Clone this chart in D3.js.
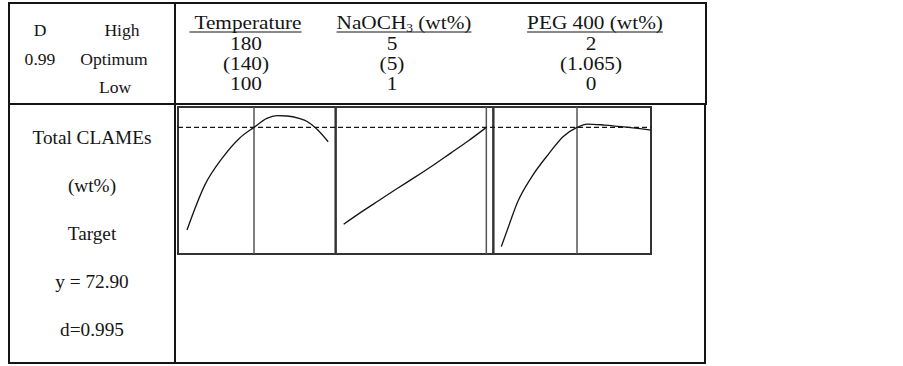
<!DOCTYPE html>
<html>
<head>
<meta charset="utf-8">
<script src="https://cdn.jsdelivr.net/npm/d3@7"></script>
<style>
  html, body { margin: 0; padding: 0; background: #fff; }
  svg { display: block; font-family: "Liberation Serif", "Times New Roman", serif; }
</style>
</head>
<body>
<svg id="chart" width="903" height="366"></svg>
<script>
(function () {
  "use strict";

  // factor headers and their high / optimum / low settings
  const factorNames = ["Temperature", "NaOCH₃ (wt%)", "PEG 400 (wt%)"];
  const highLabels = ["180", "5", "2"];
  const optLabels = ["(140)", "(5)", "(1.065)"];
  const lowLabels = ["100", "1", "0"];
  const factorLow = [100, 1, 0];
  const factorOpt = [140, 5, 1.065];
  const factorHigh = [180, 5, 2];

  const rowNames = ["High", "Optimum", "Low"];
  const desirability = "0.99";

  const responseLines = ["Total CLAMEs", "(wt%)", "Target", "y = 72.90", "d=0.995"];
  const targetValue = 72.90;

  // predicted response traces
  const tempCurve = [
    [100, 42.2], [110.7, 55.7], [120.9, 63.6], [131.2, 69.6], [140, 72.9],
    [146.9, 75.6], [152.4, 76.4], [157.9, 76.3], [164.3, 75.6], [168.9, 74.6],
    [174.4, 72.1], [180, 68.6]
  ];
  const naochCurve = [
    [1, 43.9], [1.5, 47.6], [2.0, 51.1], [2.5, 54.6], [3.0, 58.0],
    [3.5, 61.5], [4.0, 65.2], [4.5, 68.9], [5, 72.9]
  ];
  const pegCurve = [
    [0, 37.2], [0.109, 43.7], [0.232, 50.7], [0.428, 58.1], [0.672, 65.1],
    [0.868, 70.1], [1.065, 72.9], [1.194, 73.9], [1.412, 73.6], [1.717, 72.9],
    [2, 72.1]
  ];
  const curves = [tempCurve, naochCurve, pegCurve];

  const svg = d3.select("#chart");
  const ink = "#151515";

  // text drawn a little wider than Liberation Serif, like the original face
  function wideText(parent, x, y, sx) {
    return parent.append("text")
      .attr("transform", `translate(${x},${y}) scale(${sx},1)`)
      .attr("text-anchor", "middle");
  }

  // ---- frames ----
  const frame = svg.append("g").attr("fill", "none").attr("stroke", ink).attr("stroke-width", 2);
  frame.append("rect").attr("x", 9).attr("y", 3).attr("width", 166).attr("height", 101);
  frame.append("rect").attr("x", 175).attr("y", 3).attr("width", 531).attr("height", 101);
  frame.append("rect").attr("x", 9).attr("y", 104).attr("width", 166).attr("height", 259);
  frame.append("rect").attr("x", 175).attr("y", 104).attr("width", 530).attr("height", 259);

  // ---- top-left legend ----
  const tl = svg.append("g").attr("fill", ink).attr("font-size", 16);
  const rowY = d3.scalePoint().domain(rowNames).range([36, 93]);
  wideText(tl, 40, rowY("High"), 1.1).text("D");
  wideText(tl, 40, rowY("Optimum"), 1.1).text(desirability);
  const rowX = { High: 122, Optimum: 114, Low: 115 };
  rowNames.forEach(d => wideText(tl, rowX[d], rowY(d), 1.1).text(d));

  // ---- factor header ----
  const headerX = [248, 404, 595];
  const valueX = [246, 392, 591];
  const headSx = 1.12;
  const head = svg.append("g").attr("fill", ink).attr("font-size", 19);
  factorNames.forEach((name, i) => {
    const t = wideText(head, headerX[i], 29, headSx);
    const parts = name.split("₃");
    if (parts.length > 1) {
      t.append("tspan").text(parts[0]);
      t.append("tspan").attr("font-size", 12).attr("dy", 3).text("3");
      t.append("tspan").attr("dy", -3).text(parts[1]);
    } else {
      t.text(name);
    }
    const w = t.node().getComputedTextLength() * headSx;
    const extra = i === 0 ? 5 : 0;
    head.append("line")
      .attr("x1", headerX[i] - w / 2 - extra)
      .attr("x2", headerX[i] + w / 2)
      .attr("y1", 32).attr("y2", 32)
      .attr("stroke", ink).attr("stroke-width", 1.2);
  });
  const valueRows = [highLabels, optLabels, lowLabels];
  valueRows.forEach((labels, r) => {
    labels.forEach((d, i) => wideText(head, valueX[i], 50 + r * 20, headSx).text(d));
  });

  // ---- response label column ----
  const respY = d3.scalePoint().domain(responseLines).range([144, 336]);
  const resp = svg.append("g").attr("fill", ink).attr("font-size", 18);
  responseLines.forEach(d => wideText(resp, 92, respY(d), 1.07).text(d));

  // ---- panels ----
  const panelBand = d3.scaleBand().domain(factorNames).range([178, 651]);
  const y = d3.scaleLinear().domain([35, 79]).range([254, 107]);
  const insets = [[9, 7.5], [8, 7], [8, 0]];
  const panels = svg.append("g");

  factorNames.forEach((name, i) => {
    const x0 = panelBand(name);
    const x1 = x0 + panelBand.bandwidth();
    const lo = x0 + insets[i][0];
    const hi = x1 - insets[i][1];
    const x = d3.scaleLinear();
    if (factorOpt[i] < factorHigh[i]) {
      const mid = i === 0 ? 254 : 577;
      x.domain([factorLow[i], factorOpt[i], factorHigh[i]]).range([lo, mid, hi]);
    } else {
      x.domain([factorLow[i], factorHigh[i]]).range([lo, hi]);
    }

    panels.append("rect")
      .attr("x", x0).attr("y", y.range()[1])
      .attr("width", x1 - x0).attr("height", y.range()[0] - y.range()[1])
      .attr("fill", "none").attr("stroke", "#333").attr("stroke-width", 2);

    panels.append("line")
      .attr("x1", x(factorOpt[i])).attr("x2", x(factorOpt[i]))
      .attr("y1", y.range()[1]).attr("y2", y.range()[0])
      .attr("stroke", "#555").attr("stroke-width", 1.5);

    panels.append("path")
      .datum(curves[i])
      .attr("fill", "none")
      .attr("stroke", ink)
      .attr("stroke-width", 1.3)
      .attr("d", d3.line().x(d => x(d[0])).y(d => y(d[1])).curve(d3.curveMonotoneX));
  });

  panels.append("line")
    .attr("x1", panelBand.range()[0]).attr("x2", panelBand.range()[1])
    .attr("y1", y(targetValue)).attr("y2", y(targetValue))
    .attr("stroke", ink).attr("stroke-width", 1.3)
    .attr("stroke-dasharray", "5,3");
})();
</script>
</body>
</html>
